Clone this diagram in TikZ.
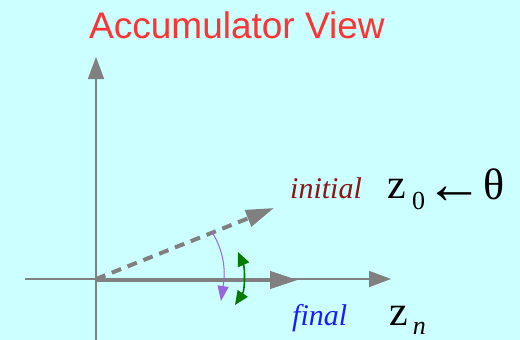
\documentclass[tikz,border=0pt]{standalone}
\usepackage{fontspec}
\setmainfont{Liberation Serif}
\newfontfamily\titlefont{Liberation Sans}
\usetikzlibrary{arrows.meta}
\definecolor{bgc}{HTML}{CCFFFF}
\definecolor{axisgray}{HTML}{808080}
\definecolor{titlered}{HTML}{FF3333}
\definecolor{initred}{HTML}{8B1515}
\definecolor{finalblue}{HTML}{1A1AFF}
\definecolor{arcpurple}{HTML}{9966DD}
\definecolor{arcgreen}{HTML}{007A00}
\tikzset{
  axis/.style={draw=axisgray, line width=1.6pt, -{Triangle[length=22pt,width=16pt]}},
  vec/.style={draw=axisgray, line width=4pt, -{Triangle[length=28pt,width=17pt]}},
  lbl/.style={inner sep=0pt, anchor=base west},
}
\begin{document}
\begin{tikzpicture}[x=1pt,y=-1pt]
\fill[bgc] (0,0) rectangle (520,340);
\useasboundingbox (0,0) rectangle (520,340);
\node[lbl, text=titlered, font=\titlefont\fontsize{37}{40}\selectfont] (title) at (89,38) {Accumulator View};
\coordinate (O) at (96,279);
\coordinate (ybot) at (96,340);
\coordinate (ytop) at (96,57);
\coordinate (xleft) at (25,279);
\coordinate (xright) at (391,279);
\coordinate (fin) at (298,280);
\coordinate (ini) at (274,208);
\draw[axis] (ybot) -- (ytop);
\draw[axis] (xleft) -- (xright);
\draw[vec] (96,280) -- (fin);
\draw[vec, dash pattern=on 10pt off 7pt] (O) -- (ini);
\coordinate (ps) at (212,232);
\coordinate (pe) at (221,301);
\draw[arcpurple, line width=1pt, -{Triangle[length=15pt,width=11pt]}] (ps) .. controls (228,258) and (224,280) .. (pe);
\coordinate (gs) at (238,252);
\coordinate (ge) at (235,305);
\draw[arcgreen, line width=1.6pt, {Triangle[length=14pt,width=12pt]}-{Triangle[length=14pt,width=12pt]}] (gs) .. controls (245,268) and (245,290) .. (ge);
\node[lbl, text=initred, font=\itshape\fontsize{30}{32}\selectfont] (initial) at (290,198) {initial};
\node[lbl, font=\fontsize{42}{44}\selectfont] (z0) at (387,198) {z\kern6.4pt\raisebox{-11pt}{\fontsize{26}{28}\selectfont 0}\raisebox{-5pt}{\fontsize{58}{60}\selectfont ←}\raisebox{-1pt}{\fontsize{44}{46}\selectfont θ}};
\node[lbl, text=finalblue, font=\itshape\fontsize{30}{32}\selectfont] (final) at (292,325) {final};
\node[lbl, font=\fontsize{42}{44}\selectfont] (zn) at (389,325) {z\kern5pt\raisebox{-9pt}{\itshape\fontsize{26}{28}\selectfont n}};
\end{tikzpicture}
\end{document}
